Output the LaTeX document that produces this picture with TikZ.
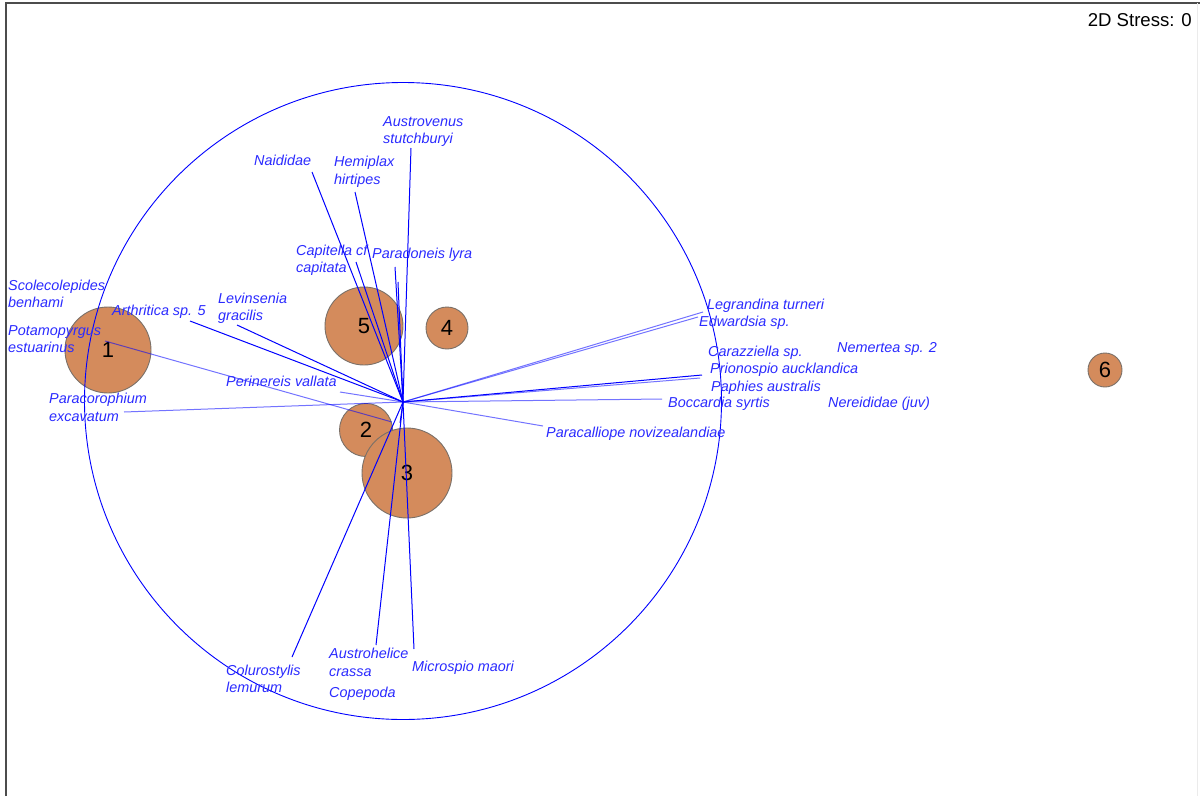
\documentclass[tikz,border=0pt]{standalone}
\usepackage{fontspec}
\setmainfont{Liberation Sans}
\usetikzlibrary{positioning}
\definecolor{cBub}{HTML}{D48B5C}
\definecolor{cRim}{HTML}{7A7068}
\definecolor{cVec}{HTML}{0000FF}
\definecolor{cLbl}{HTML}{2B2BFF}
\tikzset{
  bub/.style  ={circle, draw=cRim, fill=cBub, line width=0.9pt, inner sep=0pt,
                font=\fontsize{22}{22}\selectfont, text=black},
  vec/.style  ={draw=cVec, line width=1pt},
  vecl/.style ={vec, draw opacity=0.55},
  lbl/.style  ={font=\fontsize{14.4}{17.6}\selectfont\itshape, text=cLbl,
                inner sep=0pt, anchor=base west, align=left},
  lbltwo/.style ={lbl, yshift=-17.6pt},
  ring/.style ={draw=cVec, line width=0.9pt},
}
\begin{document}
\begin{tikzpicture}[x=1pt, y=-1pt]
\useasboundingbox (0,0) rectangle (1200,796);
\fill[white] (0,0) rectangle (1200,796);
% frame
\draw[black!70, line width=1.2pt] (6,796) -- (6,3) -- (1200,3);
\draw[black!8] (1197,3) -- (1197,796);
\node[anchor=base east, inner sep=0pt, font=\fontsize{18.6}{18.6}\selectfont] (stress) at (1192,26.5) {2D Stress: 0};

% samples
\node[bub, minimum size=86] (b1) at (108,350) {1};
\node[bub, minimum size=53] (b2) at (366,430) {2};
\node[bub, minimum size=90] (b3) at (407,473) {3};
\node[bub, minimum size=42] (b4) at (447,328) {4};
\node[bub, minimum size=78] (b5) at (364,326) {5};
\node[bub, minimum size=34] (b6) at (1105,370) {6};

% correlation circle
\coordinate (o) at (403,402);
\draw[ring] (403,401) circle[radius=318.5];

% vector ends
\coordinate (eAus) at (411,148);
\coordinate (eNai) at (312,172);
\coordinate (eHem) at (355,192);
\coordinate (eCap) at (356,262);
\coordinate (ePar) at (395,267);
\coordinate (ePar2) at (398,282);
\coordinate (eLev) at (237,325);
\coordinate (eArt) at (190,321);
\coordinate (ePer) at (340,392);
\coordinate (eCor) at (124,412);
\coordinate (ePot) at (105,341);
\coordinate (ePotb) at (392,422);
\coordinate (eSho) at (400,423);
\coordinate (eLeg) at (703,312);
\coordinate (eEdw) at (698,317);
\coordinate (ePri) at (702,375);
\coordinate (ePap) at (700,378);
\coordinate (eBoc) at (662,399);
\coordinate (eCal) at (543,426);
\coordinate (eCol) at (292,657);
\coordinate (eAhe) at (376,645);
\coordinate (eMic) at (414,649);

\draw[vec] (o) -- (eAus);
\draw[vec] (o) -- (eNai);
\draw[vec] (o) -- (eHem);
\draw[vec] (o) -- (eCap);
\draw[vec] (o) -- (ePar);
\draw[vec] (o) -- (ePar2);
\draw[vec] (o) -- (eLev);
\draw[vec] (o) -- (eArt);
\draw[vecl] (o) -- (ePer);
\draw[vecl] (o) -- (eCor);
\draw[vecl] (ePot) -- (ePotb);
\draw[vec] (o) -- (eSho);
\draw[vecl] (o) -- (eLeg);
\draw[vecl] (o) -- (eEdw);
\draw[vec] (o) -- (ePri);
\draw[vecl] (o) -- (ePap);
\draw[vecl] (o) -- (eBoc);
\draw[vecl] (o) -- (eCal);
\draw[vec] (o) -- (eCol);
\draw[vec] (o) -- (eAhe);
\draw[vec] (o) -- (eMic);

% species labels
\node[lbltwo] (lAus) at (383,126) {Austrovenus\\stutchburyi};
\node[lbl] (lNai) at (254,165) {Naididae};
\node[lbltwo] (lHem) at (334,166.5) {Hemiplax\\hirtipes};
\node[lbltwo] (lCap) at (296,255) {Capitella cf\\capitata};
\node[lbl] (lPar) at (372,258) {Paradoneis lyra};
\node[lbltwo] (lLev) at (218,303) {Levinsenia\\gracilis};
\node[lbl] (lArt) at (112,315) {Arthritica sp. 5};
\node[lbltwo] (lSco) at (8,290) {Scolecolepides\\benhami};
\node[lbltwo] (lPot) at (8,335) {Potamopyrgus\\estuarinus};
\node[lbltwo] (lCor) at (49,403.5) {Paracorophium\\excavatum};
\node[lbl] (lPer) at (226,386) {Perinereis vallata};
\node[lbl] (lLeg) at (707,309) {Legrandina turneri};
\node[lbl] (lEdw) at (699,326) {Edwardsia sp.};
\node[lbl] (lCar) at (708,356) {Carazziella sp.};
\node[lbl] (lNem) at (837,352) {Nemertea sp. 2};
\node[lbl] (lPri) at (710,373.5) {Prionospio aucklandica};
\node[lbl] (lPap) at (711,391) {Paphies australis};
\node[lbl] (lBoc) at (668,407) {Boccardia syrtis};
\node[lbl] (lNer) at (828,407.5) {Nereididae (juv)};
\node[lbl] (lCal) at (546,437.5) {Paracalliope novizealandiae};
\node[lbltwo] (lCol) at (226,675) {Colurostylis\\lemurum};
\node[lbltwo] (lAhe) at (329,658.5) {Austrohelice\\crassa};
\node[lbl] (lCop) at (329,697.5) {Copepoda};
\node[lbl] (lMic) at (412,671) {Microspio maori};
\end{tikzpicture}
\end{document}
